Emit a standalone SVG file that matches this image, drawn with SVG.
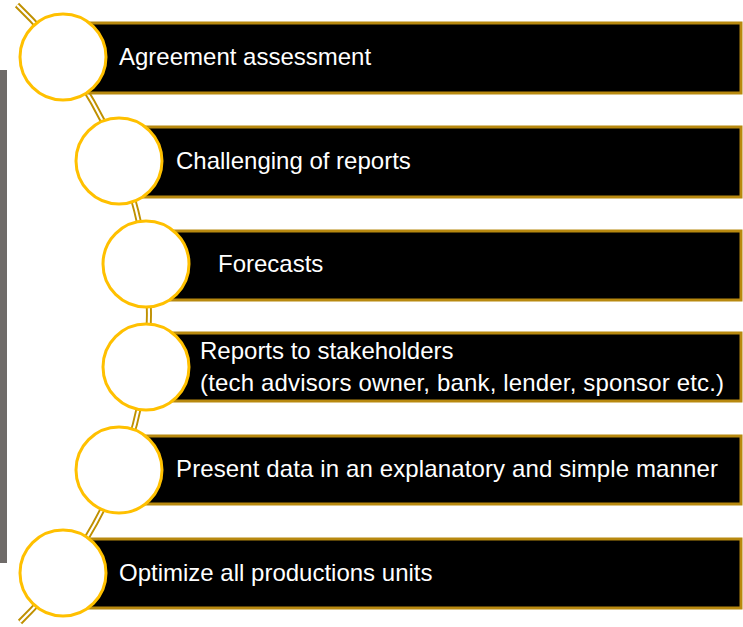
<svg xmlns="http://www.w3.org/2000/svg" width="743" height="627" viewBox="0 0 743 627">
<style>
.bar{fill:#000;stroke:#b8890f;stroke-width:3}
.dot{fill:#fff;stroke:#ffc000;stroke-width:3}
.lbl{font-family:"Liberation Sans",Arial,sans-serif;font-size:24px;fill:#fff}
.rail{fill:none;stroke:#bf9000;stroke-width:6}
.core{fill:none;stroke:#fff;stroke-width:2.2}
</style>
<rect x="0" y="70" width="7" height="493" fill="#6f6b69"/>
<g id="connectors">
<path class="rail" d="M 17 5 A 430 430 0 0 1 20 622"/>
<path class="core" d="M 17 5 A 430 430 0 0 1 20 622"/>
</g>
<g id="n1">
<rect class="bar" x="63" y="23" width="678" height="70"/>
<circle class="dot" cx="63" cy="57" r="43"/>
<text class="lbl" x="119" y="65">Agreement assessment</text>
</g>
<g id="n2">
<rect class="bar" x="119" y="127" width="622" height="70"/>
<circle class="dot" cx="119" cy="161" r="43"/>
<text class="lbl" x="176" y="169">Challenging of reports</text>
</g>
<g id="n3">
<rect class="bar" x="146" y="231" width="595" height="69"/>
<circle class="dot" cx="146" cy="264" r="43"/>
<text class="lbl" x="218" y="272">Forecasts</text>
</g>
<g id="n4">
<rect class="bar" x="146" y="333" width="595" height="68"/>
<circle class="dot" cx="146" cy="367" r="43"/>
<text class="lbl" x="200" y="359">Reports to stakeholders</text>
<text class="lbl" x="200" y="391" textLength="524" lengthAdjust="spacing">(tech advisors owner, bank, lender, sponsor etc.)</text>
</g>
<g id="n5">
<rect class="bar" x="119" y="436" width="622" height="68"/>
<circle class="dot" cx="119" cy="470" r="43"/>
<text class="lbl" x="176" y="477" textLength="542" lengthAdjust="spacing">Present data in an explanatory and simple manner</text>
</g>
<g id="n6">
<rect class="bar" x="63" y="539" width="678" height="69"/>
<circle class="dot" cx="63" cy="573" r="43"/>
<text class="lbl" x="119" y="581">Optimize all productions units</text>
</g>
</svg>
